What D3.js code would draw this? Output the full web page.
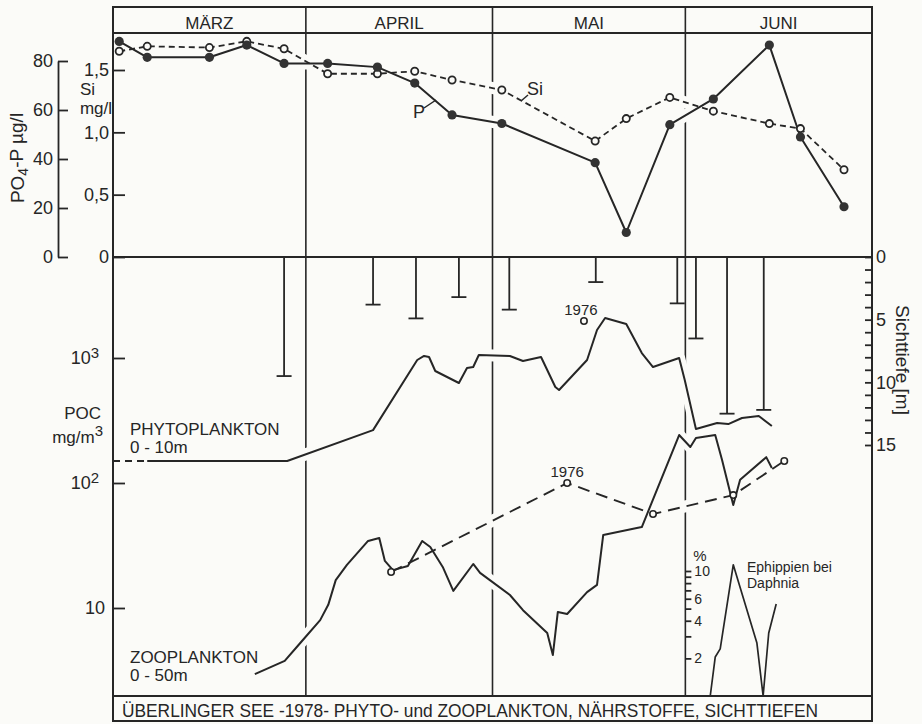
<!DOCTYPE html>
<html>
<head>
<meta charset="utf-8">
<script src="https://cdn.jsdelivr.net/npm/d3@7/dist/d3.min.js"></script>
<style>
  html, body { margin: 0; padding: 0; background: #fbfbf8; }
  svg { display: block; font-family: "Liberation Sans", Arial, sans-serif; }
</style>
</head>
<body>
<svg id="chart" width="922" height="724"></svg>
<script>
// Überlinger See 1978 — time axis in days counted from 1 March 1978
const months = ["MÄRZ", "APRIL", "MAI", "JUNI"];
const monthStartDays = [0, 31, 61, 92, 122];

// Nutrients (upper panel)
const nutrientDays = [1, 5.5, 15.5, 21.5, 27.5, 34.5, 42.5, 48.5, 54.5, 62.5, 77.5, 82.5, 89.5, 96.5, 105.5, 110.5, 117.5];
const po4P = [88, 81.5, 81.5, 86.5, 79, 79, 77.5, 71, 58, 54.5, 38.5, 10, 54, 64.5, 86.5, 49, 20.5];      // µg/l
const silicate = [1.65, 1.69, 1.68, 1.73, 1.67, 1.47, 1.47, 1.49, 1.42, 1.34, 0.93, 1.11, 1.28, 1.17, 1.07, 1.03, 0.70]; // mg/l
const po4Ticks = [0, 20, 40, 60, 80];
const siTicks = [0, 0.5, 1.0, 1.5];

// Secchi depth (Sichttiefe, m)
const secchiDays = [27.5, 41.8, 48.7, 55.6, 63.7, 77.6, 90.7, 93.7, 98.7, 104.6];
const secchiDepth = [9.5, 3.8, 4.9, 3.2, 4.2, 2.0, 3.7, 6.5, 12.5, 12.2];
const depthTicks = d3.range(0, 16);
const depthLabels = [0, 5, 10, 15];

// Phytoplankton POC 0-10 m (mg/m³); the first stretch is drawn dashed
const phytoDays = [0, 5.5, 28, 41.8, 48.9, 50.0, 50.8, 51.8, 55.6, 56.9, 57.9, 58.8, 63.8, 65.9, 68.8, 71.1, 71.7, 76.2, 77.8, 79.1, 82.5, 85.0, 86.8, 91.0, 91.9, 93.7, 97.1, 98.9, 101.1, 103.8, 105.9];
const phytoPOC = [150, 150, 150, 265, 964, 1038, 1019, 787, 631, 832, 847, 1057, 1038, 946, 1019, 586, 555, 964, 1675, 2089, 1871, 1096, 847, 1000, 667, 270, 302, 296, 331, 344, 286];
const phyto1976Day = [75.7];
const phyto1976POC = [1977];

// Zooplankton POC 0-50 m (mg/m³)
const zooDays = [22.8, 27.6, 30.1, 33.3, 34.6, 35.8, 37.6, 41.0, 42.8, 43.7, 45.0, 47.4, 49.7, 51.0, 53.0, 54.7, 57.9, 59.0, 63.8, 65.9, 69.8, 70.7, 71.5, 73.0, 76.2, 77.8, 78.8, 84.2, 85.0, 91.0, 92.8, 93.7, 96.8, 97.9, 99.7, 100.8, 105.0, 105.9];
const zooPOC = [2.96, 3.77, 5.25, 8.0, 10.6, 16.7, 22.1, 34.4, 36.3, 23.8, 20.1, 21.7, 34.4, 30.8, 21.3, 13.7, 22.5, 19.1, 12.7, 9.6, 6.3, 4.2, 9.3, 8.95, 13.4, 15.3, 38.4, 43.7, 44.4, 242, 194, 229, 242, 153, 66.7, 106, 161, 132];
const zoo1976Days = [44.7, 73.0, 86.8, 99.7, 107.9];
const zoo1976POC = [19.4, 100, 56.5, 80, 150];
const pocTicks = [10, 100, 1000];

// Ephippia in Daphnia (%)
const ephippiaDays = [96.0, 96.8, 97.6, 99.7, 103.5, 104.5, 105.4, 106.6];
const ephippiaPct = [1, 2.05, 2.38, 11.2, 2.65, 1, 3.19, 5.45];
const pctTicks = [2, 3, 4, 5, 6, 7, 8, 9, 10];
const pctLabels = [2, 4, 6, 10];

const captionText = "ÜBERLINGER SEE -1978- PHYTO- und ZOOPLANKTON, NÄHRSTOFFE, SICHTTIEFEN";

// ---- layout & scales ----
const frame = { left: 113, right: 872, top: 7, header: 33, split: 257, caption: 696, bottom: 721 };
const ink = "#262626", paper = "#fbfbf8";

const x = d3.scaleLinear().domain([0, 122]).range([frame.left, frame.right]);
const yPO4 = d3.scaleLinear().domain([0, 80]).range([frame.split, 61]);
const ySi = d3.scaleLinear().domain([0, 1.5]).range([frame.split, 70]);
const yDepth = d3.scaleLinear().domain([0, 15]).range([frame.split, 445]);
const yPOC = d3.scaleLog().domain([10, 1000]).range([608, 358]);
const yPct = d3.scaleLog().domain([1, 10]).range([frame.caption, 571]);

const svg = d3.select("#chart");
svg.append("rect").attr("width", 922).attr("height", 724).attr("fill", paper);

const pts = (xs, ys) => xs.map((d, i) => [d, ys[i]]);
const lineFor = yScale => d3.line().x(d => x(d[0])).y(d => yScale(d[1]));

// ---- month dividers ----
const monthLayer = svg.append("g");
monthLayer.selectAll("line").data(monthStartDays.slice(1, -1)).join("line")
  .attr("x1", d => x(d)).attr("x2", d => x(d))
  .attr("y1", frame.top).attr("y2", frame.caption)
  .attr("stroke", ink).attr("stroke-width", 1.6);

// curve series
const series = [
  { data: pts(nutrientDays, po4P), y: yPO4 },
  { data: pts(nutrientDays, silicate), y: ySi },
  { data: pts(phytoDays, phytoPOC), y: yPOC },
  { data: pts(zooDays, zooPOC), y: yPOC },
  { data: pts(zoo1976Days, zoo1976POC), y: yPOC }
];

// paper-coloured halos interrupt the divider lines where curves cross them
const halo = svg.append("g");
series.forEach(s => {
  halo.append("path").attr("d", lineFor(s.y)(s.data))
    .attr("fill", "none").attr("stroke", paper).attr("stroke-width", 12)
    .attr("stroke-linejoin", "round");
});

// ---- Secchi depth bars ----
const secchi = svg.append("g").attr("stroke", ink).attr("stroke-width", 1.8);
pts(secchiDays, secchiDepth).forEach(([d, v]) => {
  secchi.append("line").attr("x1", x(d)).attr("x2", x(d))
    .attr("y1", yDepth(0)).attr("y2", yDepth(v));
  secchi.append("line").attr("x1", x(d) - 7.5).attr("x2", x(d) + 7.5)
    .attr("y1", yDepth(v)).attr("y2", yDepth(v));
});

// ---- upper panel: PO4-P and Si ----
const curves = svg.append("g").attr("fill", "none").attr("stroke", ink).attr("stroke-linejoin", "round");
curves.append("path").attr("d", lineFor(ySi)(series[1].data))
  .attr("stroke-width", 1.8).attr("stroke-dasharray", "6,4");
curves.append("path").attr("d", lineFor(yPO4)(series[0].data)).attr("stroke-width", 2);

svg.append("g").selectAll("circle").data(series[1].data).join("circle")
  .attr("cx", d => x(d[0])).attr("cy", d => ySi(d[1])).attr("r", 3.6)
  .attr("fill", paper).attr("stroke", ink).attr("stroke-width", 1.8);
svg.append("g").selectAll("circle").data(series[0].data).join("circle")
  .attr("cx", d => x(d[0])).attr("cy", d => yPO4(d[1])).attr("r", 4.6)
  .attr("fill", "#333");

// ---- phytoplankton ----
const phyto = series[2].data;
curves.append("path").attr("d", lineFor(yPOC)(phyto.slice(0, 2)))
  .attr("stroke-width", 2).attr("stroke-dasharray", "7,5");
curves.append("path").attr("d", lineFor(yPOC)(phyto.slice(1))).attr("stroke-width", 2);

// ---- zooplankton ----
curves.append("path").attr("d", lineFor(yPOC)(series[3].data)).attr("stroke-width", 2);
curves.append("path").attr("d", lineFor(yPOC)(series[4].data))
  .attr("stroke-width", 1.9).attr("stroke-dasharray", "12,7");

// ---- ephippia ----
curves.append("path").attr("d", lineFor(yPct)(pts(ephippiaDays, ephippiaPct))).attr("stroke-width", 1.7);

// 1976 reference points
const ref1976 = pts(phyto1976Day, phyto1976POC).concat(series[4].data);
svg.append("g").selectAll("circle").data(ref1976).join("circle")
  .attr("cx", d => x(d[0])).attr("cy", d => yPOC(d[1])).attr("r", 3.2)
  .attr("fill", paper).attr("stroke", ink).attr("stroke-width", 1.6);

// ---- frame ----
const fr = svg.append("g").attr("stroke", ink).attr("stroke-width", 2).attr("fill", "none");
fr.append("rect").attr("x", frame.left).attr("y", frame.top)
  .attr("width", frame.right - frame.left).attr("height", frame.bottom - frame.top);
[frame.header, frame.split, frame.caption].forEach(yy => {
  fr.append("line").attr("x1", frame.left).attr("x2", frame.right).attr("y1", yy).attr("y2", yy);
});

// ---- axes ----
function styleAxis(g, size) {
  g.select(".domain").remove();
  g.selectAll(".tick line").attr("stroke", ink).attr("stroke-width", 1.8);
  g.selectAll(".tick text").attr("fill", ink).attr("font-size", size)
    .attr("font-family", "'Liberation Sans', Arial, sans-serif");
}
const comma = d => d === 0 ? "0" : d3.format(".1f")(d).replace(".", ",");

// PO4-P axis (outer left)
const po4Axis = svg.append("g").attr("transform", `translate(58,0)`)
  .call(d3.axisLeft(yPO4).tickValues(po4Ticks).tickSizeInner(-10).tickSizeOuter(0).tickPadding(5));
po4Axis.select(".domain").attr("stroke", ink).attr("stroke-width", 1.8);
po4Axis.selectAll(".tick line").attr("stroke", ink).attr("stroke-width", 1.8);
po4Axis.selectAll(".tick text").attr("fill", ink).attr("font-size", 18)
  .attr("font-family", "'Liberation Sans', Arial, sans-serif");

// Si axis (frame)
svg.append("g").attr("transform", `translate(${frame.left},0)`)
  .call(d3.axisLeft(ySi).tickValues(siTicks).tickFormat(comma).tickSizeInner(-12).tickPadding(4))
  .call(g => styleAxis(g, 18));

// POC log axis (frame)
const pocAxis = svg.append("g").attr("transform", `translate(${frame.left},0)`)
  .call(d3.axisLeft(yPOC).tickValues(pocTicks).tickFormat("").tickSizeInner(-12).tickPadding(4))
  .call(g => styleAxis(g, 18));
pocAxis.selectAll(".tick").each(function(d) {
  const t = d3.select(this).select("text").text(null).attr("x", -8);
  const exp = Math.round(Math.log10(d));
  t.append("tspan").text("10");
  if (exp > 1) {
    t.attr("x", -14);
    t.append("tspan").attr("dy", "-0.45em").attr("font-size", 15).text(exp);
  }
});

// Secchi depth axis (right frame)
svg.append("g").attr("transform", `translate(${frame.right},0)`)
  .call(d3.axisRight(yDepth).tickValues(depthTicks).tickSizeInner(-7).tickPadding(4)
    .tickFormat(d => depthLabels.includes(d) ? d : ""))
  .call(g => styleAxis(g, 18));

// Ephippia % axis on the June divider
const juneX = x(monthStartDays[3]);
svg.append("g").attr("transform", `translate(${juneX},0)`)
  .call(d3.axisRight(yPct).tickValues(pctTicks).tickSizeInner(6).tickPadding(3)
    .tickFormat(d => pctLabels.includes(d) ? d : ""))
  .call(g => styleAxis(g, 14));

// ---- text ----
const txt = (xx, yy, s, size, anchor) => svg.append("text")
  .attr("x", xx).attr("y", yy).attr("fill", ink).attr("font-size", size)
  .attr("text-anchor", anchor || "start").text(s);

months.forEach((m, i) => {
  txt((x(monthStartDays[i]) + x(monthStartDays[i + 1])) / 2, 29, m, 17, "middle");
});

// PO4-P axis title
const po4Title = svg.append("text").attr("transform", "translate(24,158) rotate(-90)")
  .attr("text-anchor", "middle").attr("fill", ink).attr("font-size", 19);
po4Title.append("tspan").text("PO");
po4Title.append("tspan").attr("dy", "0.3em").attr("font-size", 14).text("4");
po4Title.append("tspan").attr("dy", "-0.3em").text("-P  µg/l");

txt(95, 95, "Si", 17, "end");
txt(112, 114, "mg/l", 17, "end");

// series labels in the upper panel
txt(413, 118, "P", 18);
svg.append("line").attr("x1", 424).attr("y1", 108).attr("x2", 436).attr("y2", 100).attr("stroke", ink).attr("stroke-width", 1.5);
txt(527, 95, "Si", 18);
svg.append("line").attr("x1", 521).attr("y1", 101).attr("x2", 528).attr("y2", 95).attr("stroke", ink).attr("stroke-width", 1.5);

// POC axis title
txt(101, 419, "POC", 17, "end");
const mgm = txt(103, 443, "mg/m", 17, "end");
mgm.append("tspan").attr("dy", "-0.45em").attr("font-size", 15).text("3");

txt(130, 435, "PHYTOPLANKTON", 17);
txt(130, 453, "0 - 10m", 17);
txt(130, 663, "ZOOPLANKTON", 17);
txt(130, 681, "0 - 50m", 17);

// year labels for the 1976 reference points
txt(x(phyto1976Day[0]) - 3, 315, "1976", 15, "middle");
txt(x(zoo1976Days[1]), 477, "1976", 15, "middle");

// Secchi axis title
svg.append("text").attr("transform", "translate(896,360) rotate(90)")
  .attr("text-anchor", "middle").attr("fill", ink).attr("font-size", 19).text("Sichttiefe [m]");

// Ephippia labels
txt(juneX + 8, 561, "%", 15);
txt(747, 572, "Ephippien bei", 14);
txt(747, 588, "Daphnia", 14);

// caption
svg.append("text").attr("x", 122).attr("y", 717).attr("fill", ink).attr("font-size", 18)
  .attr("textLength", 696).attr("lengthAdjust", "spacingAndGlyphs").text(captionText);
</script>
</body>
</html>
